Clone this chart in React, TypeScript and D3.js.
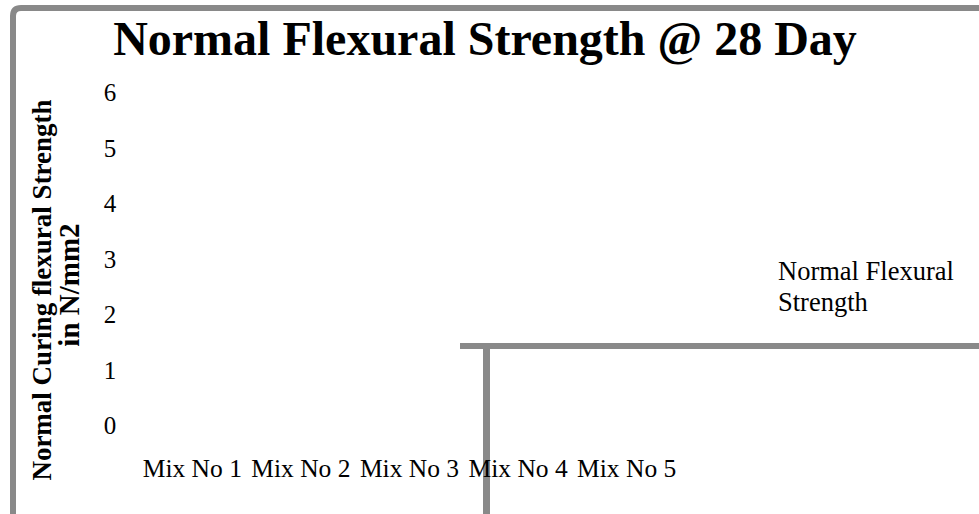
import React from "react";
import * as d3 from "d3";

const title = "Normal Flexural Strength @ 28 Day";
const yTitleLines = ["Normal Curing flexural Strength", "in N/mm2"];
const categories = ["Mix No 1", "Mix No 2", "Mix No 3", "Mix No 4", "Mix No 5"];
const yTicks = [0, 1, 2, 3, 4, 5, 6];
const legendLines = ["Normal Flexural", "Strength"];

const W = 979;
const H = 514;
const FONT = "'Liberation Serif', 'Times New Roman', serif";
const GRAY = "#898989";

export default function App() {
  const y = d3.scaleLinear().domain([0, 6]).range([428, 95]);
  const x = d3.scaleBand().domain(categories).range([138, 681]).padding(0);

  return (
    <svg
      width={W}
      height={H}
      style={{ position: "absolute", left: 0, top: 0, background: "#fff" }}
    >
      <rect x={0} y={0} width={W} height={H} fill="#fff" />
      {/* outer chart frame (clipped) */}
      <path
        d={`M13,${H + 10} L13,16 Q13,8 21,8 L${W + 10},8`}
        fill="none"
        stroke={GRAY}
        strokeWidth={6}
      />
      {/* inner frame (partial) */}
      <line x1={460} x2={W + 10} y1={346} y2={346} stroke={GRAY} strokeWidth={6} />
      <line x1={486.5} x2={486.5} y1={343} y2={H + 10} stroke={GRAY} strokeWidth={7} />

      {/* title */}
      <text
        x={485}
        y={55}
        textAnchor="middle"
        fontFamily={FONT}
        fontWeight="bold"
        fontSize={48}
        fill="#000"
      >
        {title}
      </text>

      {/* y axis title */}
      {yTitleLines.map((t, i) => (
        <text
          key={t}
          transform={`translate(${i === 0 ? 51 : 79},${i === 0 ? 290 : 285}) rotate(-90)`}
          textAnchor="middle"
          fontFamily={FONT}
          fontWeight="bold"
          fontSize={i === 0 ? 27 : 29}
          fill="#000"
        >
          {t}
        </text>
      ))}

      {/* y tick labels */}
      {yTicks.map((v) => (
        <text
          key={v}
          x={110}
          y={y(v) + 6}
          textAnchor="middle"
          fontFamily={FONT}
          fontSize={25}
          fill="#000"
        >
          {v}
        </text>
      ))}

      {/* x category labels */}
      {categories.map((c) => (
        <text
          key={c}
          x={(x(c) as number) + x.bandwidth() / 2}
          y={477}
          textAnchor="middle"
          fontFamily={FONT}
          fontSize={25.5}
          fill="#000"
        >
          {c}
        </text>
      ))}

      {/* legend */}
      {legendLines.map((t, i) => (
        <text
          key={t}
          x={778}
          y={280 + i * 31}
          fontFamily={FONT}
          fontSize={26.5}
          fill="#000"
        >
          {t}
        </text>
      ))}
    </svg>
  );
}
